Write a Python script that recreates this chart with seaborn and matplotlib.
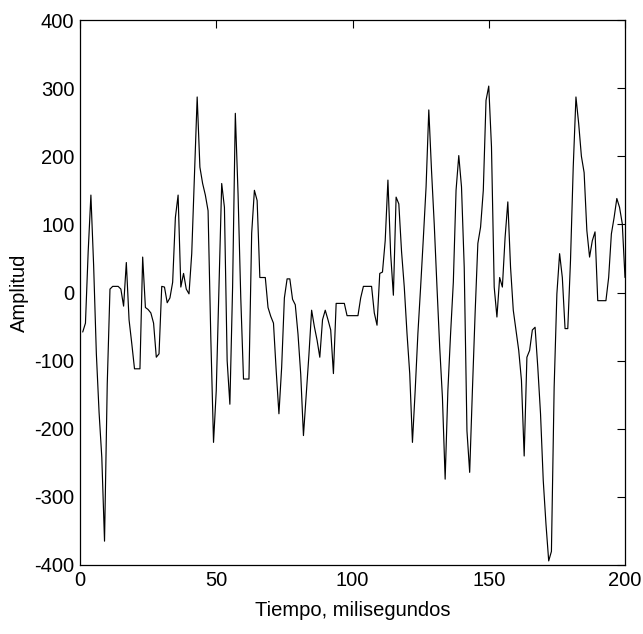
import numpy as np
import pandas as pd
import matplotlib
matplotlib.use("Agg")
import matplotlib.pyplot as plt
import seaborn as sns
from matplotlib import font_manager

tiempo = list(range(1, 201))
amplitud = [
    -58, -45, 60, 143, 40, -90, -176, -242, -365, -134,
    5, 9, 9, 9, 5, -20, 44, -40, -75, -112,
    -112, -112, 52, -22, -25, -30, -45, -95, -90, 9,
    8, -15, -8, 15, 110, 143, 8, 28, 5, -2,
    57, 170, 287, 184, 160, 143, 120, -66, -220, -144,
    8, 160, 125, -100, -164, 8, 263, 145, -8, -127,
    -127, -127, 87, 150, 135, 22, 22, 22, -22, -35,
    -45, -115, -178, -110, -8, 20, 20, -10, -18, -61,
    -120, -210, -150, -92, -26, -50, -70, -95, -40, -26,
    -40, -55, -119, -16, -16, -16, -16, -34, -34, -34,
    -34, -34, -8, 9, 9, 9, 9, -30, -48, 28,
    30, 76, 165, 57, -4, 140, 130, 60, 8, -60,
    -119, -220, -144, -60, 8, 80, 155, 268, 179, 100,
    8, -80, -154, -274, -144, -60, 15, 150, 201, 155,
    37, -203, -264, -144, -30, 72, 96, 150, 282, 303,
    214, 8, -36, 22, 8, 81, 133, 37, -26, -55,
    -85, -129, -240, -95, -85, -55, -51, -110, -178, -276,
    -340, -394, -380, -139, -2, 57, 22, -53, -53, 47,
    184, 287, 248, 200, 176, 91, 52, 76, 89, -12,
    -12, -12, -12, 22, 86, 110, 138, 125, 101, 22,
]
x_ticks = [0, 50, 100, 150, 200]
y_ticks = [-400, -300, -200, -100, 0, 100, 200, 300, 400]
x_label = "Tiempo, milisegundos"
y_label = "Amplitud"

sns.set_style("white")
names = {f.name for f in font_manager.fontManager.ttflist}
fam = ["Liberation Sans Narrow"] if "Liberation Sans Narrow" in names else ["Liberation Sans"]
plt.rcParams["font.family"] = fam + ["DejaVu Sans"]
fs = 14.5

df = pd.DataFrame({"t": tiempo, "a": amplitud})

fig = plt.figure(figsize=(6.43, 6.34), dpi=100)
ax = fig.add_axes([80 / 643, 1 - 565 / 634, 545 / 643, 545 / 634])
sns.lineplot(data=df, x="t", y="a", ax=ax, color="black", linewidth=0.85)

ax.set_xlim(0, 200)
ax.set_ylim(-400, 400)
ax.set_xticks(x_ticks)
ax.set_yticks(y_ticks)
ax.set_xticklabels([str(v) for v in x_ticks])
ax.set_yticklabels([str(v) for v in y_ticks])
ax.tick_params(direction="in", length=6, width=0.8, colors="black",
               labelsize=fs, top=True, right=True, pad=4)
for s in ax.spines.values():
    s.set_visible(True)
    s.set_color("black")
    s.set_linewidth(0.9)
ax.set_xlabel(x_label, fontsize=fs, color="black", labelpad=8)
ax.set_ylabel(y_label, fontsize=fs, color="black", labelpad=4)
ax.grid(False)

fig.savefig("out.png", dpi=100, facecolor="white")
